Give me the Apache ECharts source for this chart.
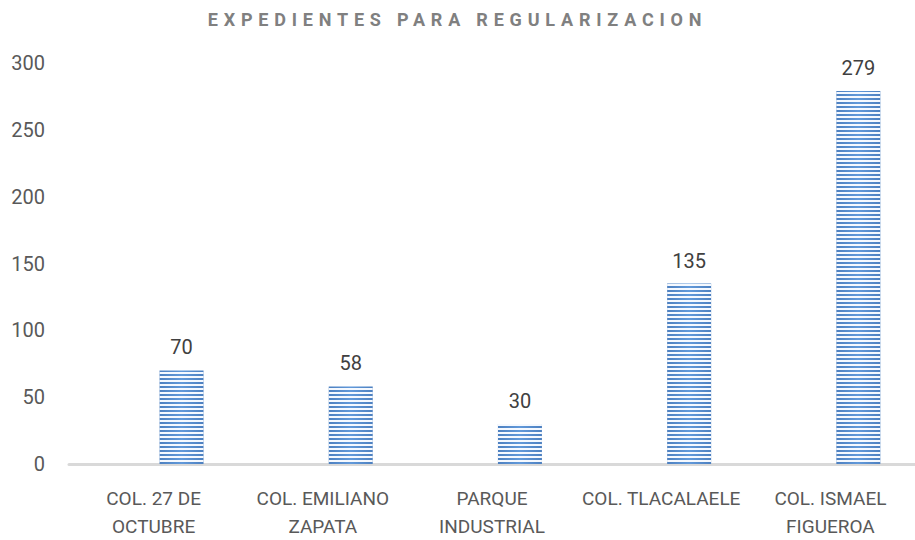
<!DOCTYPE html>
<html>
<head>
<meta charset="utf-8">
<script src="https://cdn.jsdelivr.net/npm/echarts@6/dist/echarts.min.js"></script>
<style>
html,body{margin:0;padding:0;background:#fff;}
#chart{width:915px;height:540px;}
#chart text[style*="bold"]{letter-spacing:5.8px;}
</style>
</head>
<body>
<div id="chart"></div>
<script>
const titleText = 'EXPEDIENTES PARA REGULARIZACION';
const categories = ['COL. 27 DE\nOCTUBRE', 'COL. EMILIANO\nZAPATA', 'PARQUE\nINDUSTRIAL', 'COL. TLACALAELE', 'COL. ISMAEL\nFIGUEROA'];
const values = [70, 58, 30, 135, 279];
const emptyValues = ['-', '-', '-', '-', '-'];

const FONT = '"Roboto", "Noto Sans", sans-serif';
const chart = echarts.init(document.getElementById('chart'), null, {renderer: 'svg'});
chart.setOption({
  animation: false,
  backgroundColor: '#ffffff',
  title: {
    text: titleText,
    left: 'center',
    top: 5,
    textStyle: {fontFamily: FONT, fontSize: 18, fontWeight: 'bold', color: '#808080'}
  },
  grid: {left: 69, right: -7, top: 63, bottom: 74, containLabel: false},
  xAxis: {
    type: 'category',
    data: categories,
    axisLine: {lineStyle: {color: '#d9d9d9', width: 3}},
    axisTick: {show: false},
    axisLabel: {fontFamily: FONT, fontSize: 19, color: '#595959', lineHeight: 28, margin: 20, interval: 0}
  },
  yAxis: {
    type: 'value',
    min: 0, max: 300, interval: 50,
    axisLine: {show: false},
    axisTick: {show: false},
    splitLine: {show: false},
    axisLabel: {fontFamily: FONT, fontSize: 20, color: '#595959', margin: 24}
  },
  series: [
    {type: 'bar', data: emptyValues, barWidth: 44, barGap: '27%', silent: true},
    {
      type: 'bar',
      data: values,
      barWidth: 44,
      barGap: '27%',
      itemStyle: {
        color: {
          type: 'linear', x: 0, y: 0, x2: 1, y2: 0,
          colorStops: [
            {offset: 0, color: '#4d80c0'},
            {offset: 0.5, color: '#6199da'},
            {offset: 1, color: '#4d80c0'}
          ]
        },
        decal: {
          symbol: 'rect',
          symbolSize: 1,
          color: 'rgba(245,249,255,1)',
          dashArrayX: [1, 0],
          dashArrayY: [1.5, 2],
          rotation: 0
        }
      },
      label: {
        show: true,
        position: 'top',
        distance: 13,
        fontFamily: FONT,
        fontSize: 20,
        color: '#404040'
      }
    }
  ]
});
</script>
</body>
</html>
